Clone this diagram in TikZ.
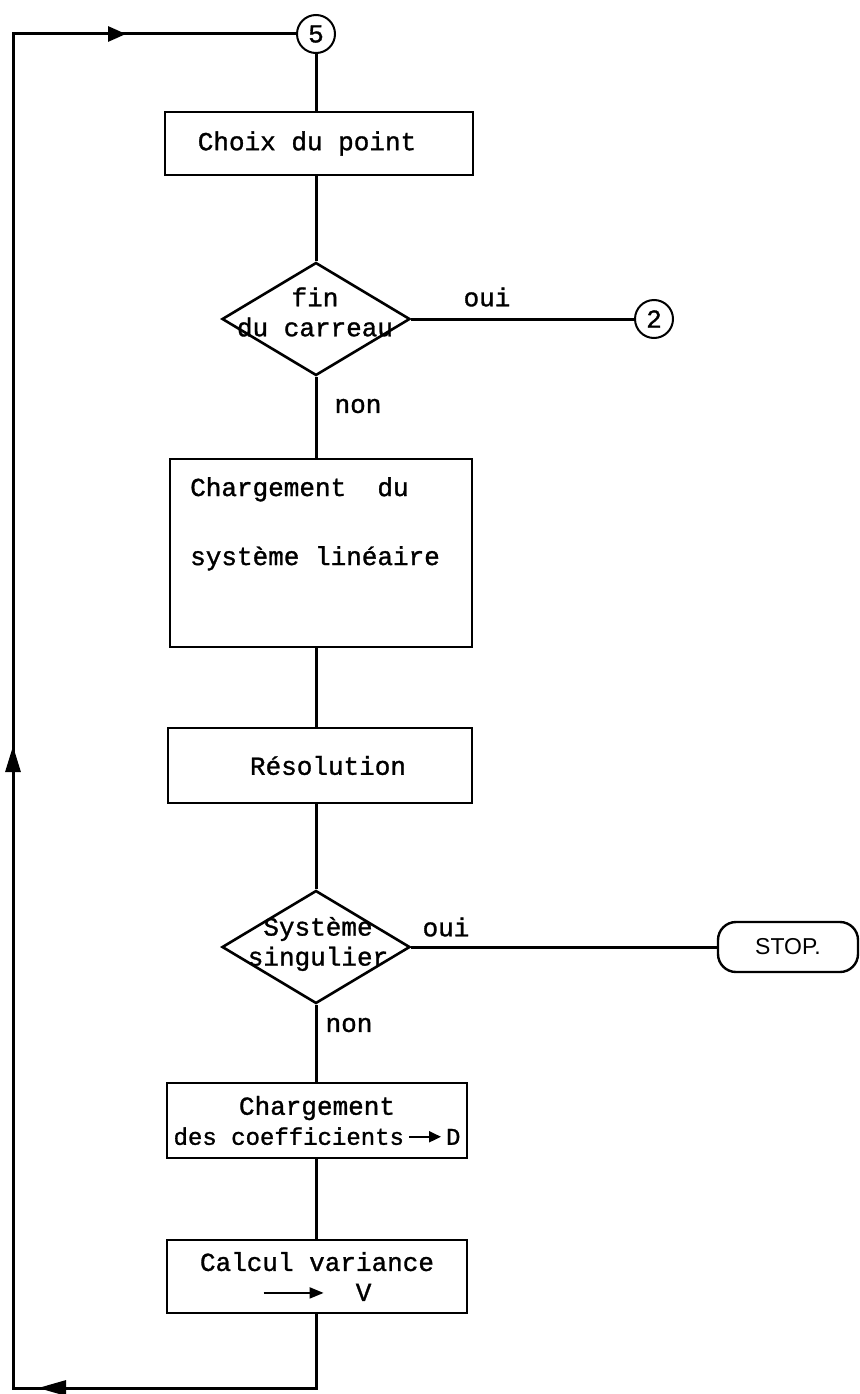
\documentclass[tikz,border=0pt]{standalone}
\usepackage{fontspec}
\setmonofont{Liberation Mono}[FakeBold=1.2]
\newfontfamily\stopfont{Liberation Sans}
\usetikzlibrary{shapes.geometric,arrows.meta}
\begin{document}
\begin{tikzpicture}[x=1pt,y=-1pt,
  every node/.style={font=\ttfamily\fontsize{26}{30}\selectfont},
  conn/.style={line width=3pt},
  boxs/.style={draw, line width=2.6pt, rectangle, inner sep=0pt},
  dia/.style={draw, line width=2.6pt, diamond, inner sep=0pt, minimum width=188pt, minimum height=113pt},
  conncirc/.style={draw, line width=2pt, circle, inner sep=0pt, minimum size=38pt, font=\ttfamily\fontsize{26}{28}\selectfont},
  lbl/.style={inner sep=0pt},
  arrowseg/.style={line width=3pt, -{Triangle[length=#1, width=15pt]}},
  inarrow/.style={line width=2pt, -{Triangle[length=#1, width=11pt]}},
]
\useasboundingbox (0,0) rectangle (859,1394);

\node[conncirc] (c5) at (316,34) {5};
\node[boxs, minimum width=308pt, minimum height=63pt] (choix) at (319,143.5) {Choix du point\hspace*{24pt}};

\node[dia] (d1) at (316,319) {};
\node[lbl, align=center] (d1t) at (315,312) {fin\\du carreau};
\node[lbl] (oui1) at (487,297) {oui};
\node[conncirc] (c2) at (654,319) {2};
\node[lbl] (non1) at (358,406) {non};

\node[boxs, minimum width=302pt, minimum height=188pt] (charg) at (321,553) {};
\node[lbl, align=left, anchor=north west] (chargt) at (190,477) {Chargement~~du\\[39pt]système linéaire};

\node[boxs, minimum width=304pt, minimum height=75pt] (reso) at (320,765.5) {\hspace*{16pt}Résolution};

\node[dia] (d2) at (316,947) {};
\node[lbl, align=center] (d2t) at (318,944) {Système\\singulier};
\node[lbl] (oui2) at (446,927) {oui};
\node[draw, line width=2.4pt, rounded corners=18pt, minimum width=140pt, minimum height=50pt, inner sep=0pt, font=\stopfont\fontsize{23}{26}\selectfont] (stop) at (788,947) {STOP.};
\node[lbl] (non2) at (349,1025) {non};

\node[boxs, minimum width=300pt, minimum height=75pt, align=center] (coef) at (317,1120.5) {Chargement\\{\fontsize{24}{28}\selectfont des coefficients\,\tikz[baseline=-8pt]\draw[inarrow=12pt] (0pt,0pt) -- (32pt,0pt);\,D}};

\node[boxs, minimum width=300pt, minimum height=73pt, align=center] (calc) at (317,1276.5) {Calcul variance\\\tikz[baseline=-8pt]\draw[inarrow=14pt] (0pt,0pt) -- (60pt,0pt);\ \ V};

\coordinate (bl) at (13,1388);
\coordinate (tl) at (13,34);

\draw[conn] (c5.south) -- (c5.south |- choix.north);
\draw[conn] (d1.north |- choix.south) -- (d1.north);
\draw[conn] (d1.south) -- (d1.south |- charg.north);
\draw[conn] (d1.south |- charg.south) -- (d1.south |- reso.north);
\draw[conn] (d2.north |- reso.south) -- (d2.north);
\draw[conn] (d2.south) -- (d2.south |- coef.north);
\draw[conn] (d2.south |- coef.south) -- (d2.south |- calc.north);
\draw[conn] (d1.east) -- (c2.west);
\draw[conn] (d2.east) -- (stop.west);
\draw[conn] (d2.south |- calc.south) |- (bl) -- (tl) -- (c5.west);

\coordinate (a1) at (126,34);
\coordinate (a2) at (13,746);
\coordinate (a3) at (38,1388);
\draw[arrowseg=18pt] (tl) -- (a1);
\draw[arrowseg=26pt] (bl) -- (a2);
\draw[arrowseg=28pt] (d2.south |- bl) -- (a3);
\end{tikzpicture}
\end{document}
